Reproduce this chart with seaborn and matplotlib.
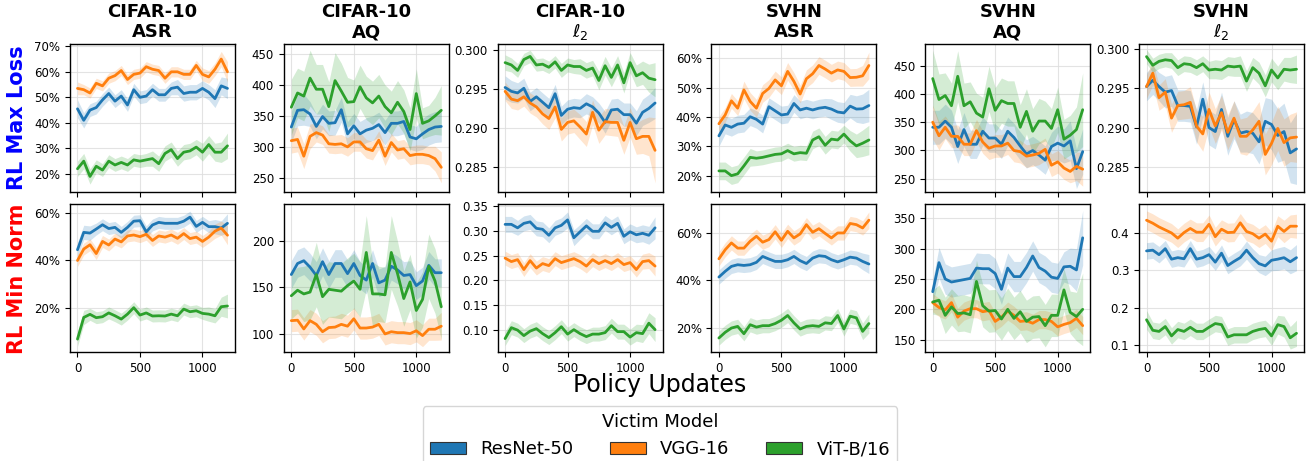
import matplotlib
matplotlib.use("Agg")
import matplotlib.pyplot as plt
import matplotlib.ticker as mticker
from matplotlib.patches import Patch
import numpy as np
import pandas as pd
import seaborn as sns

# ---------------- data ----------------
updates = [0, 50, 100, 150, 200, 250, 300, 350, 400, 450, 500, 550, 600,
           650, 700, 750, 800, 850, 900, 950, 1000, 1050, 1100, 1150, 1200]
models = ["ResNet-50", "VGG-16", "ViT-B/16"]
datasets_metrics = [("CIFAR-10", "ASR"), ("CIFAR-10", "AQ"), ("CIFAR-10", r"$\ell_2$"),
                    ("SVHN", "ASR"), ("SVHN", "AQ"), ("SVHN", r"$\ell_2$")]
row_labels = ["RL Max Loss", "RL Min Norm"]

# ---- RL Max Loss ----
cifar_asr_max_resnet = [45.5, 41, 45, 46, 49, 51.5, 48.5, 50.5, 47, 53, 50, 50.5, 53, 51, 51, 53.5, 54, 51.5, 52, 52, 53.5, 52, 49.5, 54.5, 53.5]
cifar_asr_max_vgg = [53.5, 53, 51.7, 55.5, 54.5, 57.5, 58.5, 60.5, 57, 59, 59.5, 62, 61, 60.5, 57.5, 60, 60, 59, 59, 62.5, 59, 58, 61, 65, 60]
cifar_asr_max_vit = [22, 25, 19, 23, 21.5, 25, 23.5, 24.5, 23.5, 25.5, 25, 25.5, 26, 24, 28, 29.5, 26, 28.5, 29, 30.5, 28.5, 31.5, 28.5, 28.5, 31]
cifar_asr_max_resnet_ci = [3.5, 3, 2.5, 2.5, 2.5, 2.5, 2.5, 2.5, 2.5, 2.5, 2.5, 2.5, 2.5, 2.5, 2.5, 2.5, 3, 3, 3, 3, 3, 3, 3.5, 3.5, 4]
cifar_asr_max_vgg_ci = [2.5, 2, 2, 2, 2, 2, 2, 2, 2, 2, 2, 2, 2, 2, 2, 2, 2, 2, 2, 2, 2.5, 2.5, 2.5, 3, 4]
cifar_asr_max_vit_ci = [3, 3, 3, 2.5, 2.5, 2.5, 2.5, 2.5, 2.5, 2.5, 2.5, 2.5, 3, 3, 3, 3, 3, 3, 3, 3, 3.5, 3.5, 3.5, 4, 5]

cifar_aq_max_resnet = [332, 359, 360, 353, 333, 349, 338, 339, 360, 321, 334, 321, 327, 330, 336, 323, 338, 338, 341, 316, 313, 321, 328, 332, 333]
cifar_aq_max_vgg = [310, 312, 285, 317, 323, 319, 305, 304, 305, 300, 308, 308, 297, 294, 311, 285, 307, 295, 297, 286, 288, 288, 286, 281, 267]
cifar_aq_max_vit = [364, 387, 382, 411, 393, 393, 365, 407, 390, 372, 373, 397, 379, 371, 382, 365, 355, 372, 357, 328, 386, 338, 342, 350, 359]
cifar_aq_max_resnet_ci = [25, 25, 25, 20, 20, 20, 20, 20, 20, 20, 20, 20, 20, 20, 20, 20, 20, 20, 20, 20, 20, 25, 25, 25, 25]
cifar_aq_max_vgg_ci = [20, 20, 20, 20, 15, 15, 15, 15, 15, 15, 15, 15, 15, 15, 15, 15, 15, 15, 15, 15, 15, 15, 15, 20, 25]
cifar_aq_max_vit_ci = [45, 40, 40, 45, 40, 40, 40, 45, 45, 40, 35, 35, 35, 35, 35, 35, 35, 35, 35, 35, 40, 25, 25, 30, 40]

cifar_l2_max_resnet = [0.2952, 0.2947, 0.2945, 0.2951, 0.2934, 0.2940, 0.2933, 0.2926, 0.2944, 0.2916, 0.2924, 0.2926, 0.2925, 0.2931, 0.2927, 0.2919, 0.2907, 0.2923, 0.2924, 0.2917, 0.2917, 0.2906, 0.2920, 0.2925, 0.2932]
cifar_l2_max_vgg = [0.2947, 0.2937, 0.2935, 0.2940, 0.2932, 0.2927, 0.2918, 0.2912, 0.2927, 0.2898, 0.2907, 0.2909, 0.2901, 0.2892, 0.2920, 0.2897, 0.2908, 0.2907, 0.2907, 0.2884, 0.2907, 0.2886, 0.2889, 0.2889, 0.2871]
cifar_l2_max_vit = [0.2984, 0.2981, 0.2974, 0.2988, 0.2992, 0.2981, 0.2982, 0.2978, 0.2985, 0.2974, 0.2981, 0.2979, 0.2979, 0.2974, 0.2977, 0.2961, 0.2980, 0.2965, 0.2981, 0.2958, 0.2984, 0.2967, 0.2971, 0.2964, 0.2962]
cifar_l2_max_resnet_ci = [0.0015, 0.0014, 0.0013, 0.0013, 0.0012, 0.0012, 0.0012, 0.0012, 0.0012, 0.0012, 0.0012, 0.0012, 0.0012, 0.0013, 0.0013, 0.0013, 0.0014, 0.0014, 0.0014, 0.0015, 0.0015, 0.0016, 0.0017, 0.0018, 0.0020]
cifar_l2_max_vgg_ci = [0.0012, 0.0012, 0.0012, 0.0012, 0.0013, 0.0013, 0.0013, 0.0014, 0.0014, 0.0015, 0.0015, 0.0015, 0.0016, 0.0016, 0.0016, 0.0017, 0.0017, 0.0017, 0.0018, 0.0018, 0.0019, 0.0020, 0.0022, 0.0025, 0.0042]
cifar_l2_max_vit_ci = [0.0010, 0.0009, 0.0009, 0.0008, 0.0008, 0.0008, 0.0008, 0.0008, 0.0008, 0.0009, 0.0009, 0.0009, 0.0010, 0.0010, 0.0010, 0.0012, 0.0012, 0.0012, 0.0012, 0.0013, 0.0013, 0.0014, 0.0015, 0.0018, 0.0022]

svhn_asr_max_resnet = [33.6, 37.3, 36.5, 37.6, 37.9, 40.1, 39.2, 37.6, 43.5, 42.1, 40.7, 41, 44.6, 42.4, 43, 42.4, 43, 43.3, 42.7, 41.7, 41.4, 43.7, 42.7, 42.8, 43.9]
svhn_asr_max_vgg = [37.7, 40.7, 45.5, 43, 49.2, 45.3, 43, 48, 49.7, 52.6, 50.6, 55.5, 52.1, 47.8, 53, 54.7, 57.5, 56.3, 54.9, 56, 55.5, 53.4, 53.5, 54, 57.5]
svhn_asr_max_vit = [21.7, 21.7, 20.1, 20.7, 23.4, 26.3, 26, 26.3, 26.8, 27.3, 27.5, 28.6, 27.5, 27.9, 27.7, 32.2, 33.3, 30.4, 32.5, 32.2, 34.2, 31.9, 30.2, 31.1, 32.2]
svhn_asr_max_resnet_ci = [3.5, 3, 3, 3, 3, 3, 3, 3, 3, 3, 3, 3, 3, 3, 3, 3, 3, 3, 3.5, 3.5, 3.5, 4, 4.5, 5, 5.5]
svhn_asr_max_vgg_ci = [2.5, 2.5, 2.5, 2.5, 3, 3, 3, 3, 3, 3, 3, 3, 3, 3, 3, 3, 3, 3, 3, 3, 3, 3, 3, 3.5, 4.5]
svhn_asr_max_vit_ci = [3, 3, 3, 3, 3, 3, 2.5, 2.5, 2.5, 2.5, 2.5, 2.5, 2.5, 2.5, 2.5, 3, 3, 3, 3, 3, 3, 3.5, 4, 4.5, 5]

svhn_aq_max_resnet = [341, 341, 352, 341, 307, 337, 311, 311, 334, 322, 322, 311, 334, 323, 308, 294, 300, 292, 283, 307, 313, 308, 317, 268, 298]
svhn_aq_max_vgg = [350, 326, 341, 325, 325, 311, 311, 335, 315, 304, 308, 308, 313, 300, 298, 290, 292, 295, 302, 274, 280, 269, 263, 272, 267]
svhn_aq_max_vit = [427, 390, 397, 379, 431, 379, 386, 366, 359, 409, 371, 388, 383, 383, 341, 369, 334, 352, 352, 339, 372, 320, 327, 337, 372]
svhn_aq_max_resnet_ci = [30, 30, 30, 30, 30, 30, 25, 25, 25, 25, 25, 25, 25, 25, 25, 25, 25, 25, 25, 25, 30, 30, 35, 35, 40]
svhn_aq_max_vgg_ci = [30, 25, 20, 20, 20, 20, 20, 20, 20, 20, 20, 20, 20, 20, 20, 20, 20, 20, 20, 20, 20, 20, 20, 25, 30]
svhn_aq_max_vit_ci = [50, 45, 40, 40, 45, 40, 35, 35, 35, 40, 40, 40, 40, 40, 40, 40, 40, 40, 35, 35, 40, 35, 35, 40, 65]

svhn_l2_max_resnet = [0.2952, 0.2960, 0.2952, 0.2945, 0.2947, 0.2928, 0.2928, 0.2927, 0.2901, 0.2936, 0.2900, 0.2895, 0.2923, 0.2889, 0.2910, 0.2893, 0.2895, 0.2893, 0.2882, 0.2908, 0.2904, 0.2890, 0.2895, 0.2868, 0.2873]
svhn_l2_max_vgg = [0.2952, 0.2969, 0.2938, 0.2945, 0.2912, 0.2928, 0.2929, 0.2932, 0.2902, 0.2892, 0.2923, 0.2902, 0.2919, 0.2894, 0.2912, 0.2889, 0.2889, 0.2897, 0.2908, 0.2866, 0.2880, 0.2899, 0.2881, 0.2887, 0.2888]
svhn_l2_max_vit = [0.2990, 0.2979, 0.2984, 0.2986, 0.2985, 0.2976, 0.2981, 0.2980, 0.2976, 0.2981, 0.2973, 0.2974, 0.2973, 0.2978, 0.2977, 0.2978, 0.2959, 0.2976, 0.2969, 0.2953, 0.2973, 0.2963, 0.2974, 0.2973, 0.2974]
svhn_l2_max_resnet_ci = [0.0018, 0.0018, 0.0018, 0.0020, 0.0020, 0.0020, 0.0020, 0.0020, 0.0022, 0.0022, 0.0022, 0.0022, 0.0022, 0.0024, 0.0024, 0.0024, 0.0026, 0.0026, 0.0028, 0.0030, 0.0032, 0.0034, 0.0036, 0.0038, 0.0045]
svhn_l2_max_vgg_ci = [0.0015, 0.0015, 0.0016, 0.0017, 0.0018, 0.0018, 0.0018, 0.0020, 0.0020, 0.0022, 0.0022, 0.0022, 0.0022, 0.0022, 0.0022, 0.0022, 0.0024, 0.0024, 0.0025, 0.0026, 0.0027, 0.0028, 0.0030, 0.0030, 0.0032]
svhn_l2_max_vit_ci = [0.0009, 0.0009, 0.0009, 0.0009, 0.0010, 0.0010, 0.0010, 0.0010, 0.0010, 0.0010, 0.0011, 0.0012, 0.0012, 0.0012, 0.0012, 0.0013, 0.0013, 0.0013, 0.0014, 0.0014, 0.0015, 0.0015, 0.0015, 0.0016, 0.0018]

# ---- RL Min Norm ----
cifar_asr_min_resnet = [44.5, 51.8, 51.5, 53.2, 55, 53.4, 53.9, 51.8, 53.9, 56.5, 56.7, 52, 54.9, 56, 55.6, 55.6, 55.6, 56.5, 58.2, 54.3, 56, 54.2, 54.2, 53.6, 55.6]
cifar_asr_min_vgg = [40, 44.8, 46.6, 42.9, 48, 46.5, 49, 47.8, 50.3, 50.7, 50, 51, 48.4, 50.3, 49.8, 50.7, 49.3, 51.3, 49.2, 49.8, 48, 49.8, 52.3, 53.6, 50.6]
cifar_asr_min_vit = [7, 16.1, 17.4, 16, 16.4, 18, 16.8, 15.4, 17.5, 20.2, 17.1, 18, 16.7, 16.8, 16.7, 17.5, 16.8, 19.6, 18.5, 18.9, 17.8, 17.5, 16.8, 20.6, 20.9]
cifar_asr_min_resnet_ci = [3, 3, 3, 2.5, 2.5, 2.5, 2.5, 2.5, 2.5, 2.5, 2.5, 2.5, 2.5, 2.5, 2.5, 2.5, 2.5, 2.5, 2.5, 2.5, 2.5, 2.5, 3, 3, 4]
cifar_asr_min_vgg_ci = [2.5, 2.5, 2.5, 2.5, 2.5, 2.5, 2.5, 2.5, 2.5, 2.5, 2.5, 2.5, 2.5, 2.5, 2.5, 2.5, 2.5, 2.5, 2.5, 2.5, 2.5, 2.5, 3, 3, 4]
cifar_asr_min_vit_ci = [3, 3, 2.5, 2.5, 2.5, 2.5, 2.5, 2.5, 2.5, 2.5, 2.5, 2.5, 2.5, 2.5, 2.5, 2.5, 2.5, 2.5, 2.5, 2.5, 2.5, 3, 3, 4, 5]

cifar_aq_min_resnet = [164, 176, 179, 172, 163, 178, 164, 176, 176, 165, 176, 163, 158, 176, 155, 158, 173, 169, 163, 164, 152, 157, 174, 166, 166]
cifar_aq_min_vgg = [114, 114.5, 105, 114, 110, 102, 106.5, 107, 110, 108, 116, 106, 106, 107, 110, 99.6, 102, 101, 101, 100, 103, 97.8, 104.7, 104.7, 108]
cifar_aq_min_vit = [141, 147, 143, 145, 164, 140, 148, 147, 146, 152, 157, 148, 188, 143, 143, 142, 188, 165, 138, 156, 125, 137, 173, 157, 129]
cifar_aq_min_resnet_ci = [15, 15, 15, 15, 15, 15, 15, 15, 15, 15, 15, 15, 15, 15, 15, 15, 15, 15, 15, 15, 15, 15, 15, 15, 15]
cifar_aq_min_vgg_ci = [12, 12, 12, 12, 12, 12, 12, 12, 12, 12, 12, 12, 12, 12, 12, 12, 12, 12, 12, 12, 12, 12, 12, 12, 15]
cifar_aq_min_vit_ci = [25, 25, 30, 30, 35, 30, 30, 30, 30, 30, 30, 30, 40, 35, 30, 30, 40, 35, 30, 30, 30, 30, 35, 35, 35]

cifar_l2_min_resnet = [0.313, 0.313, 0.306, 0.315, 0.318, 0.305, 0.303, 0.291, 0.306, 0.311, 0.322, 0.286, 0.298, 0.310, 0.299, 0.299, 0.316, 0.307, 0.315, 0.289, 0.298, 0.292, 0.295, 0.291, 0.306]
cifar_l2_min_vgg = [0.245, 0.238, 0.242, 0.222, 0.240, 0.225, 0.234, 0.230, 0.244, 0.236, 0.240, 0.244, 0.238, 0.229, 0.242, 0.234, 0.240, 0.234, 0.242, 0.232, 0.236, 0.222, 0.238, 0.240, 0.229]
cifar_l2_min_vit = [0.083, 0.105, 0.100, 0.089, 0.098, 0.103, 0.093, 0.085, 0.095, 0.107, 0.092, 0.101, 0.093, 0.087, 0.092, 0.092, 0.095, 0.109, 0.097, 0.097, 0.086, 0.095, 0.093, 0.114, 0.101]
cifar_l2_min_resnet_ci = [0.016, 0.016, 0.015, 0.015, 0.015, 0.015, 0.015, 0.015, 0.015, 0.015, 0.016, 0.016, 0.015, 0.015, 0.015, 0.015, 0.015, 0.015, 0.015, 0.015, 0.016, 0.016, 0.017, 0.018, 0.022]
cifar_l2_min_vgg_ci = [0.014, 0.014, 0.014, 0.014, 0.014, 0.014, 0.014, 0.014, 0.014, 0.014, 0.014, 0.014, 0.014, 0.014, 0.014, 0.014, 0.014, 0.014, 0.014, 0.014, 0.014, 0.015, 0.015, 0.016, 0.020]
cifar_l2_min_vit_ci = [0.014, 0.014, 0.014, 0.014, 0.014, 0.014, 0.014, 0.014, 0.014, 0.014, 0.014, 0.014, 0.014, 0.014, 0.014, 0.014, 0.014, 0.015, 0.015, 0.015, 0.016, 0.017, 0.018, 0.021, 0.024]

svhn_asr_min_resnet = [41.4, 43.8, 45.9, 46.6, 46.3, 46.6, 47.6, 50.1, 49, 48, 48, 48.7, 50.1, 48.3, 47.1, 49.4, 50.4, 50.1, 48.7, 47.8, 48.7, 49.8, 49.4, 48, 46.9]
svhn_asr_min_vgg = [49.1, 52.9, 55.8, 53.6, 53.6, 56.5, 58.6, 56.1, 57.2, 60.5, 56.9, 60.7, 57.9, 59.6, 63.5, 60.3, 61.8, 59.8, 57.9, 60, 60, 64, 63.5, 62.1, 65.4]
svhn_asr_min_vit = [15.7, 18.1, 19.9, 20.6, 17.5, 21.3, 20.3, 20.9, 20.9, 21.8, 23.2, 25.2, 22.1, 19.5, 20.6, 20.9, 20.6, 22.1, 21.8, 25.2, 19.5, 24.9, 24.2, 18.5, 21.8]
svhn_asr_min_resnet_ci = [3, 3, 3, 3, 3, 3, 3, 3, 3, 3, 3, 3, 3, 3, 3, 3, 3, 3, 3, 3, 3, 3, 3, 3.5, 4]
svhn_asr_min_vgg_ci = [3, 3, 3, 3, 3, 3, 3, 3, 3, 3, 3, 3, 3, 3, 3, 3, 3, 3, 3, 3, 3, 3, 3, 3, 3.5]
svhn_asr_min_vit_ci = [3, 3, 3, 3, 3, 3, 3, 3, 3, 3, 3, 3, 3, 3, 3, 3, 3, 3, 3, 3, 3, 3, 3, 3.5, 4]

svhn_aq_min_resnet = [229, 277, 250, 245, 247, 249, 251, 268, 267, 267, 259, 233, 268, 254, 254, 269, 288, 269, 263, 253, 251, 270, 271, 265, 318]
svhn_aq_min_vgg = [211, 203, 199, 211, 187, 197, 201, 201, 196, 198, 180, 187, 197, 190, 180, 181, 177, 183, 183, 180, 171, 175, 178, 185, 173]
svhn_aq_min_vit = [212, 215, 190, 204, 193, 194, 191, 246, 206, 197, 198, 184, 200, 185, 196, 180, 187, 188, 173, 190, 190, 232, 195, 188, 200]
svhn_aq_min_resnet_ci = [20, 25, 25, 25, 25, 25, 25, 25, 25, 25, 25, 25, 25, 25, 25, 25, 25, 25, 25, 25, 25, 25, 30, 35, 45]
svhn_aq_min_vgg_ci = [15, 15, 15, 15, 15, 15, 15, 15, 15, 15, 15, 15, 15, 15, 15, 15, 15, 15, 15, 15, 15, 15, 15, 15, 15]
svhn_aq_min_vit_ci = [20, 25, 30, 30, 30, 30, 30, 35, 35, 35, 35, 35, 35, 35, 35, 35, 35, 35, 35, 35, 35, 35, 35, 40, 60]

svhn_l2_min_resnet = [0.352, 0.354, 0.342, 0.358, 0.330, 0.334, 0.331, 0.358, 0.330, 0.334, 0.342, 0.322, 0.346, 0.313, 0.324, 0.334, 0.354, 0.334, 0.318, 0.312, 0.327, 0.330, 0.334, 0.323, 0.334]
svhn_l2_min_vgg = [0.434, 0.426, 0.416, 0.408, 0.400, 0.386, 0.401, 0.412, 0.402, 0.402, 0.423, 0.390, 0.410, 0.401, 0.402, 0.427, 0.404, 0.398, 0.386, 0.397, 0.378, 0.418, 0.404, 0.418, 0.418]
svhn_l2_min_vit = [0.168, 0.140, 0.137, 0.150, 0.125, 0.142, 0.137, 0.148, 0.137, 0.137, 0.148, 0.158, 0.155, 0.122, 0.128, 0.128, 0.128, 0.137, 0.142, 0.145, 0.125, 0.155, 0.150, 0.120, 0.132]
svhn_l2_min_resnet_ci = [0.022, 0.022, 0.022, 0.022, 0.022, 0.022, 0.022, 0.022, 0.022, 0.022, 0.022, 0.022, 0.022, 0.022, 0.022, 0.022, 0.024, 0.024, 0.024, 0.026, 0.028, 0.030, 0.030, 0.032, 0.035]
svhn_l2_min_vgg_ci = [0.025, 0.025, 0.025, 0.025, 0.025, 0.025, 0.025, 0.025, 0.025, 0.025, 0.025, 0.025, 0.025, 0.025, 0.025, 0.025, 0.025, 0.025, 0.025, 0.025, 0.025, 0.028, 0.030, 0.030, 0.032]
svhn_l2_min_vit_ci = [0.025, 0.022, 0.022, 0.022, 0.022, 0.022, 0.022, 0.022, 0.022, 0.022, 0.022, 0.022, 0.022, 0.022, 0.022, 0.022, 0.022, 0.022, 0.022, 0.022, 0.025, 0.025, 0.028, 0.030, 0.035]

grid_series = [
    [(cifar_asr_max_resnet, cifar_asr_max_vgg, cifar_asr_max_vit, cifar_asr_max_resnet_ci, cifar_asr_max_vgg_ci, cifar_asr_max_vit_ci),
     (cifar_aq_max_resnet, cifar_aq_max_vgg, cifar_aq_max_vit, cifar_aq_max_resnet_ci, cifar_aq_max_vgg_ci, cifar_aq_max_vit_ci),
     (cifar_l2_max_resnet, cifar_l2_max_vgg, cifar_l2_max_vit, cifar_l2_max_resnet_ci, cifar_l2_max_vgg_ci, cifar_l2_max_vit_ci),
     (svhn_asr_max_resnet, svhn_asr_max_vgg, svhn_asr_max_vit, svhn_asr_max_resnet_ci, svhn_asr_max_vgg_ci, svhn_asr_max_vit_ci),
     (svhn_aq_max_resnet, svhn_aq_max_vgg, svhn_aq_max_vit, svhn_aq_max_resnet_ci, svhn_aq_max_vgg_ci, svhn_aq_max_vit_ci),
     (svhn_l2_max_resnet, svhn_l2_max_vgg, svhn_l2_max_vit, svhn_l2_max_resnet_ci, svhn_l2_max_vgg_ci, svhn_l2_max_vit_ci)],
    [(cifar_asr_min_resnet, cifar_asr_min_vgg, cifar_asr_min_vit, cifar_asr_min_resnet_ci, cifar_asr_min_vgg_ci, cifar_asr_min_vit_ci),
     (cifar_aq_min_resnet, cifar_aq_min_vgg, cifar_aq_min_vit, cifar_aq_min_resnet_ci, cifar_aq_min_vgg_ci, cifar_aq_min_vit_ci),
     (cifar_l2_min_resnet, cifar_l2_min_vgg, cifar_l2_min_vit, cifar_l2_min_resnet_ci, cifar_l2_min_vgg_ci, cifar_l2_min_vit_ci),
     (svhn_asr_min_resnet, svhn_asr_min_vgg, svhn_asr_min_vit, svhn_asr_min_resnet_ci, svhn_asr_min_vgg_ci, svhn_asr_min_vit_ci),
     (svhn_aq_min_resnet, svhn_aq_min_vgg, svhn_aq_min_vit, svhn_aq_min_resnet_ci, svhn_aq_min_vgg_ci, svhn_aq_min_vit_ci),
     (svhn_l2_min_resnet, svhn_l2_min_vgg, svhn_l2_min_vit, svhn_l2_min_resnet_ci, svhn_l2_min_vgg_ci, svhn_l2_min_vit_ci)],
]

# axis styling per panel: (yticks, ylim, formatter)
pct = mticker.PercentFormatter(decimals=0)
axis_cfg = [
    [([20, 30, 40, 50, 60, 70], (13.1, 70.9), pct),
     ([250, 300, 350, 400, 450], (228, 466), None),
     ([0.285, 0.290, 0.295, 0.300], (0.2818, 0.3008), mticker.FormatStrFormatter("%.3f")),
     ([20, 30, 40, 50, 60], (14.7, 64.8), pct),
     ([250, 300, 350, 400, 450], (227.6, 488), None),
     ([0.285, 0.290, 0.295, 0.300], (0.2819, 0.3006), mticker.FormatStrFormatter("%.3f"))],
    [([20, 40, 60], (1.6, 63.5), pct),
     ([100, 150, 200], (80, 240), None),
     ([0.10, 0.15, 0.20, 0.25, 0.30, 0.35], (0.056, 0.353), mticker.FormatStrFormatter("%.2f")),
     ([20, 40, 60], (9.8, 72), pct),
     ([150, 200, 250, 300, 350], (129.5, 373), None),
     ([0.1, 0.2, 0.3, 0.4], (0.082, 0.476), mticker.FormatStrFormatter("%.1f"))],
]

colors = {"ResNet-50": "#1f77b4", "VGG-16": "#ff7f0e", "ViT-B/16": "#2ca02c"}

# ---------------- figure ----------------
sns.set_style("white", rc={"text.color": "black", "axes.labelcolor": "black",
                           "xtick.color": "black", "ytick.color": "black",
                           "axes.edgecolor": "black"})
plt.rcParams["font.family"] = ["DejaVu Sans"]

W, H = 1313, 461
fig = plt.figure(figsize=(W / 100, H / 100), dpi=100)
gs = fig.add_gridspec(2, 6, left=70 / W, right=1304 / W, top=1 - 44 / H, bottom=1 - 352 / H,
                      wspace=0.296, hspace=0.088)

x = np.array(updates)
for r in range(2):
    for c in range(6):
        ax = fig.add_subplot(gs[r, c])
        series = grid_series[r][c]
        means = series[:3]
        cis = series[3:]
        for m, mean, ci in zip(models, means, cis):
            mean = np.array(mean); ci = np.array(ci)
            ax.fill_between(x, mean - ci, mean + ci, color=colors[m], alpha=0.2, linewidth=0)
        for m, mean in zip(models, means):
            df = pd.DataFrame({"update": updates, "value": mean})
            sns.lineplot(data=df, x="update", y="value", ax=ax, color=colors[m], linewidth=2.0)
        yt, yl, fmt = axis_cfg[r][c]
        ax.set_yticks(yt)
        ax.set_ylim(*yl)
        if fmt is not None:
            ax.yaxis.set_major_formatter(fmt)
        ax.set_xticks([0, 500, 1000])
        ax.set_xlim(-60, 1260)
        ax.set_xlabel("")
        ax.set_ylabel("")
        ax.grid(True, color="#dddddd", linewidth=0.8, alpha=0.8)
        ax.tick_params(axis="both", labelsize=8.5, length=3.5, width=0.8, direction="out",
                       bottom=True, left=True, colors="black")
        for sp in ax.spines.values():
            sp.set_color("black")
            sp.set_linewidth(1.0)
        if r == 0:
            ax.tick_params(axis="x", labelbottom=False)
            ds, mt = datasets_metrics[c]
            # two title lines placed at fixed baselines so all panels align
            ax.annotate(ds, xy=(0.5, 1.0), xycoords="axes fraction",
                        xytext=(0, 19.2), textcoords="offset points",
                        ha="center", va="baseline", fontsize=13, fontweight="bold", color="black")
            ax.annotate(mt, xy=(0.5, 1.0), xycoords="axes fraction",
                        xytext=(0, 5.0), textcoords="offset points",
                        ha="center", va="baseline", fontsize=13, fontweight="bold", color="black")

fig.text(17 / W, 1 - 118 / H, row_labels[0], rotation=90, ha="center", va="center",
         fontsize=15, fontweight="bold", color="blue")
fig.text(17 / W, 1 - 278.5 / H, row_labels[1], rotation=90, ha="center", va="center",
         fontsize=15, fontweight="bold", color="red")

fig.text(660 / W, 1 - 385 / H, "Policy Updates", ha="center", va="center", fontsize=17,
         color="black")

handles = [Patch(facecolor=colors[m], edgecolor="#333333", linewidth=0.8, label=m) for m in models]
leg = fig.legend(handles=handles, title="Victim Model", loc="upper center",
                 bbox_to_anchor=(660 / W, 1 - 397 / H), ncol=3, fontsize=13, title_fontsize=13,
                 frameon=True, columnspacing=2.0)
leg.get_frame().set_edgecolor("#cccccc")

fig.savefig("out.png", dpi=100)
